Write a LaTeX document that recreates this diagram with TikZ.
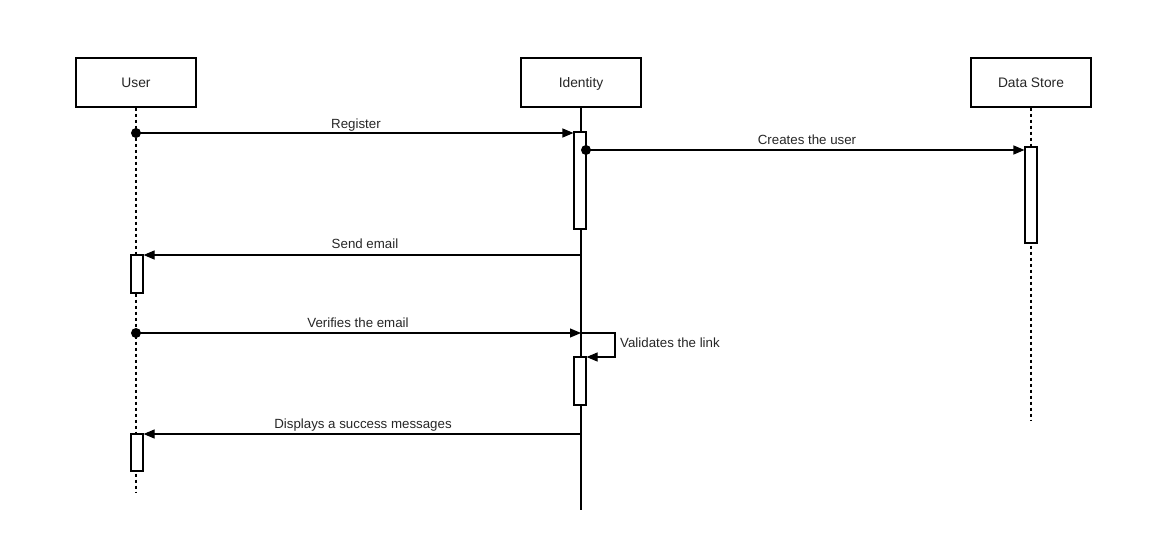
\documentclass[tikz,border=0pt]{standalone}
\usepackage{fontspec}
\setmainfont{Liberation Sans}
\usetikzlibrary{arrows.meta}
\tikzset{
  actor/.style={draw, line width=1.1pt, fill=white, minimum width=120pt, minimum height=49pt, inner sep=0pt, text height=10pt, text depth=3pt, font=\fontsize{13.8}{16}\selectfont, text=black!85},
  lifedash/.style={line width=1.1pt, dash pattern=on 3pt off 3pt},
  lifesolid/.style={line width=1.1pt},
  act/.style={draw, line width=1.1pt, fill=white, minimum width=12pt, inner sep=0pt},
  msg/.style={line width=1.1pt, -{Triangle[length=11pt,width=9pt]}},
  lbl/.style={font=\fontsize{13.3}{15}\selectfont, text=black!85, inner sep=0pt, text height=9.5pt, text depth=2.5pt},
  startdot/.style={fill=black}
}
\begin{document}
\begin{tikzpicture}[x=1pt,y=-1pt]
\path[use as bounding box] (0,0) rectangle (1172,546);

% actors
\node[actor] (user) at (136,82.5) {};
\node[actor] (id) at (581,82.5) {};
\node[actor] (ds) at (1031,82.5) {};
\node[font=\fontsize{13.8}{16}\selectfont, text=black!85, inner sep=0pt, text height=10pt, text depth=3pt] (usert) at (136,84) {User};
\node[font=\fontsize{13.8}{16}\selectfont, text=black!85, inner sep=0pt, text height=10pt, text depth=3pt] (idt) at (581,84) {Identity};
\node[font=\fontsize{13.8}{16}\selectfont, text=black!85, inner sep=0pt, text height=10pt, text depth=3pt] (dst) at (1031,84) {Data Store};

% lifeline ends
\coordinate (userend) at (136,492);
\coordinate (idend) at (581,510);
\coordinate (dsend) at (1031,420);
\draw[lifedash] (user.south) -- (userend);
\draw[lifesolid] (id.south) -- (idend);
\draw[lifedash] (ds.south) -- (dsend);

% activations
\node[act, minimum height=97pt] (a1) at (580,180.5) {};
\node[act, minimum height=96pt] (dsa) at (1031,195) {};
\node[act, minimum height=38pt] (ua1) at (137,274) {};
\node[act, minimum height=48pt] (a2) at (580,381) {};
\node[act, minimum height=37pt] (ua2) at (137,452.5) {};

% Register
\coordinate (u1) at (136,133);
\draw[msg] (u1) -- (u1 -| a1.west);
\fill[startdot] (u1) circle (5pt);
\node[lbl] (lreg) at (356,124.5) {Register};

% Creates the user
\coordinate (i1) at (586,150);
\draw[msg] (i1) -- (i1 -| dsa.west);
\fill[startdot] (i1) circle (5pt);
\node[lbl] (lcre) at (807,140.5) {Creates the user};

% Send email
\coordinate (i2) at (581,255);
\draw[msg] (i2) -- (i2 -| ua1.east);
\node[lbl] (lsend) at (365,244.5) {Send email};

% Verifies the email
\coordinate (u2) at (136,333);
\draw[msg] (u2) -- (u2 -| id.south);
\fill[startdot] (u2) circle (5pt);
\node[lbl] (lver) at (358,323.5) {Verifies the email};

% Validates the link (self message)
\coordinate (s1) at (581,333);
\coordinate (s2) at (615,357);
\draw[msg] (s1) -| (s2) -- (s2 -| a2.east);
\node[lbl, anchor=west] (lval) at (620,343.5) {Validates the link};

% Displays a success messages
\coordinate (i3) at (581,434);
\draw[msg] (i3) -- (i3 -| ua2.east);
\node[lbl] (ldisp) at (363,424.5) {Displays a success messages};
\end{tikzpicture}
\end{document}
